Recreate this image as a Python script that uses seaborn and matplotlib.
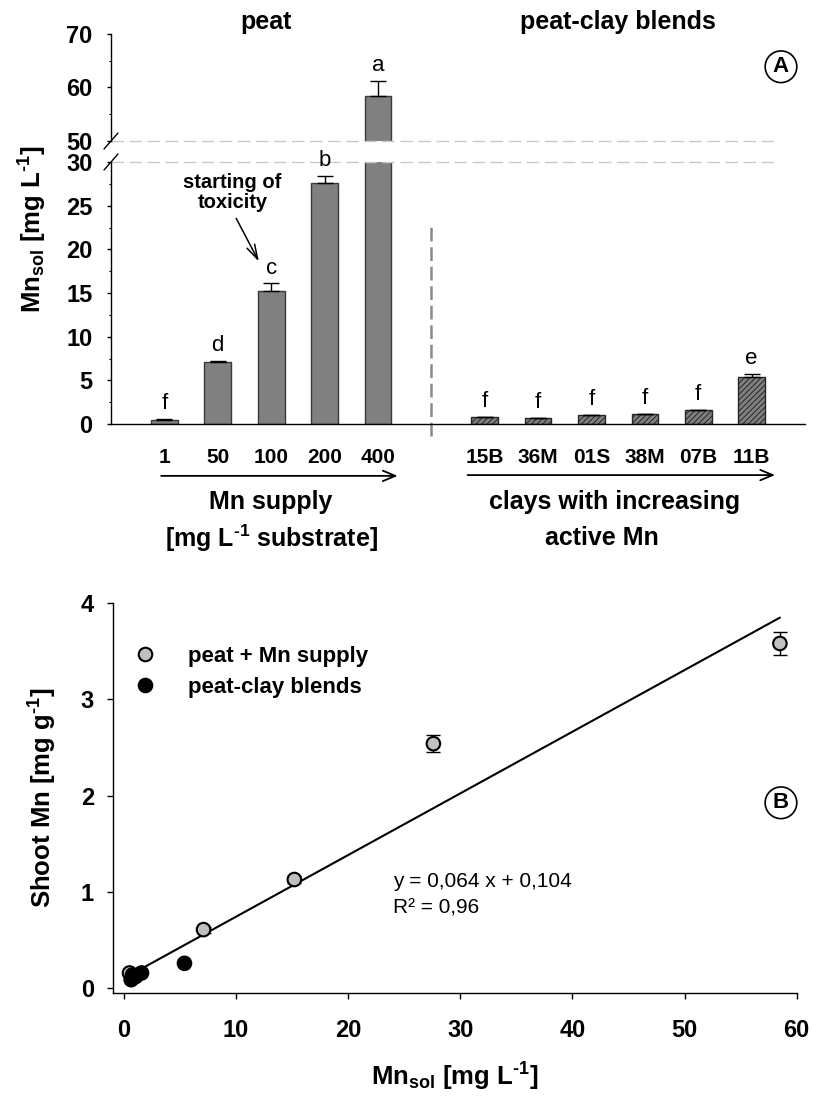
import numpy as np
import pandas as pd
import matplotlib
matplotlib.use("Agg")
import matplotlib.pyplot as plt
from matplotlib.lines import Line2D
from matplotlib.ticker import MultipleLocator
import seaborn as sns

# ---------------------------------------------------------------- data
# Panel A: soluble Mn in the substrate (mean and standard error)
peat_supply = ["1", "50", "100", "200", "400"]
peat_mnsol = [0.5, 7.1, 15.2, 27.6, 58.5]
peat_mnsol_se = [0.08, 0.12, 0.9, 0.8, 2.7]
peat_letters = ["f", "d", "c", "b", "a"]

clay_names = ["15B", "36M", "01S", "38M", "07B", "11B"]
clay_mnsol = [0.77, 0.65, 1.0, 1.1, 1.57, 5.4]
clay_mnsol_se = [0.04, 0.03, 0.05, 0.06, 0.08, 0.3]
clay_letters = ["f", "f", "f", "f", "f", "e"]

# Panel B: shoot Mn against soluble Mn
peat_shoot = [0.16, 0.61, 1.13, 2.54, 3.58]
peat_shoot_se = [0.02, 0.03, 0.04, 0.09, 0.12]
clay_shoot = [0.14, 0.09, 0.12, 0.13, 0.16, 0.26]
fit_slope = 0.064
fit_intercept = 0.104
fit_r2 = 0.96

group_names = ["peat + Mn supply", "peat-clay blends"]

# ---------------------------------------------------------------- style
sns.set_theme(style="ticks")
plt.rcParams["font.family"] = ["Liberation Sans", "DejaVu Sans"]
plt.rcParams.update({
    "font.weight": "bold",
    "mathtext.fontset": "custom",
    "mathtext.rm": "Liberation Sans",
    "mathtext.bf": "Liberation Sans:bold",
    "mathtext.it": "Liberation Sans:italic",
    "mathtext.default": "bf",
    "hatch.linewidth": 0.7,
    "axes.linewidth": 1.0,
    "axes.edgecolor": "black",
    "xtick.color": "black",
    "ytick.color": "black",
    "text.color": "black",
})

BAR_GREY = "#808080"
BAR_EDGE = "#3a3a3a"
HY = "\u2010"  # short hyphen for the unit exponents

W, H = 813, 1100
fig = plt.figure(figsize=(W / 100, H / 100), dpi=100)


def box(x0, y0, x1, y1):
    """Axes rectangle from pixel corners (top-left origin)."""
    return [x0 / W, 1 - y1 / H, (x1 - x0) / W, (y1 - y0) / H]


def fx(px):
    return px / W


def fy(py):
    return 1 - py / H


ax_hi = fig.add_axes(box(111, 34, 805, 141))
ax_lo = fig.add_axes(box(111, 162, 805, 424))
ax_b = fig.add_axes(box(112.7, 603, 796.7, 993.2))

# slot positions: peat bars, one empty slot as divider, then clay blends
peat_pos = np.arange(len(peat_supply))
divider = len(peat_supply)
clay_pos = np.arange(len(clay_names)) + divider + 1

peat_df = pd.DataFrame({"pos": peat_pos, "mnsol": peat_mnsol})
clay_df = pd.DataFrame({"pos": clay_pos, "mnsol": clay_mnsol})

# ---------------------------------------------------------------- panel A
for ax in (ax_hi, ax_lo):
    sns.barplot(data=peat_df, x="pos", y="mnsol", native_scale=True,
                width=0.5, color=BAR_GREY, saturation=1, errorbar=None,
                edgecolor=BAR_EDGE, linewidth=1.0, ax=ax)
    sns.barplot(data=clay_df, x="pos", y="mnsol", native_scale=True,
                width=0.5, color=BAR_GREY, saturation=1, errorbar=None,
                edgecolor="#262626", linewidth=1.0, hatch="//////", ax=ax)
    ax.errorbar(peat_pos, peat_mnsol,
                yerr=[np.zeros(len(peat_pos)), peat_mnsol_se],
                fmt="none", ecolor="black", elinewidth=1.0, capsize=5.5,
                capthick=1.0)
    ax.errorbar(clay_pos, clay_mnsol,
                yerr=[np.zeros(len(clay_pos)), clay_mnsol_se],
                fmt="none", ecolor="black", elinewidth=1.0, capsize=5.5,
                capthick=1.0)
    ax.set_xlim(-1, len(peat_supply) + len(clay_names) + 1)
    ax.set_xlabel("")
    ax.set_ylabel("")
    ax.spines["top"].set_visible(False)
    ax.spines["right"].set_visible(False)
    ax.tick_params(axis="y", which="major", direction="out", length=3.2,
                   width=1.0, labelsize=17, pad=10)
    ax.tick_params(axis="y", which="minor", direction="out", length=1.8,
                   width=0.8)

ax_hi.set_ylim(50, 70)
ax_hi.set_yticks([50, 60, 70])
ax_hi.yaxis.set_minor_locator(MultipleLocator(5))
ax_hi.spines["bottom"].set_visible(False)
ax_hi.set_xticks([])

ax_lo.set_ylim(0, 30)
ax_lo.set_yticks(np.arange(0, 31, 5))
ax_lo.yaxis.set_minor_locator(MultipleLocator(2.5))
ax_lo.set_xticks(list(peat_pos) + list(clay_pos))
ax_lo.set_xticklabels(peat_supply + clay_names)
ax_lo.tick_params(axis="x", length=0, labelsize=15, pad=17)

# significance letters above the error bars
for pos, val, se, let in zip(list(peat_pos) + list(clay_pos),
                             peat_mnsol + clay_mnsol,
                             peat_mnsol_se + clay_mnsol_se,
                             peat_letters + clay_letters):
    target = ax_hi if val + se > 30 else ax_lo
    target.annotate(let, (pos, val + se), xytext=(0, 7),
                    textcoords="offset points", ha="center", va="baseline",
                    fontsize=16, fontweight="normal", annotation_clip=False)

# axis break: grey dashed guides and slashes on the y axis
ax_hi.axhline(50, xmin=0, xmax=0.957, color="#c8c8c8", lw=1.0,
              ls=(0, (9, 4)), clip_on=False)
ax_lo.axhline(30, xmin=0, xmax=0.957, color="#c8c8c8", lw=1.0,
              ls=(0, (9, 4)), clip_on=False)
for py in (141, 162):
    fig.add_artist(Line2D([fx(104), fx(118)], [fy(py + 8), fy(py - 8)],
                          transform=fig.transFigure, color="black", lw=1.0))

# divider between the two substrate groups
ax_lo.plot([divider, divider], [-1.4, 23.1], color="#8a8a8a", lw=1.8,
           ls=(0, (5.5, 2.3)), clip_on=False)

# group arrows and captions below the category labels
xa = ax_lo.get_xaxis_transform()
arrow_kw = dict(arrowstyle="->,head_length=0.6,head_width=0.25",
                lw=1.3, color="black", shrinkA=0, shrinkB=0,
                mutation_scale=15)
ax_lo.annotate("", xy=(4.37, -0.198), xytext=(-0.06, -0.198),
               xycoords=xa, textcoords=xa, arrowprops=arrow_kw)
ax_lo.annotate("", xy=(11.44, -0.195), xytext=(5.68, -0.195),
               xycoords=xa, textcoords=xa, arrowprops=arrow_kw)
ax_lo.text(1.99, -0.298, "Mn supply", transform=xa, ha="center",
           va="center", fontsize=18)
ax_lo.text(2.0, -0.435, f"[mg L$^{{{HY}1}}$ substrate]", transform=xa,
           ha="center", va="center", fontsize=18)
ax_lo.text(8.44, -0.298, "clays with increasing", transform=xa,
           ha="center", va="center", fontsize=18)
ax_lo.text(8.19, -0.435, "active Mn", transform=xa, ha="center",
           va="center", fontsize=18)

# group titles
xh = ax_hi.get_xaxis_transform()
ax_hi.text(1.91, 1.115, "peat", transform=xh, ha="center", va="center",
           fontsize=18)
ax_hi.text(8.49, 1.115, "peat-clay blends", transform=xh, ha="center",
           va="center", fontsize=18)

# toxicity note with its pointer
ax_lo.text(1.275, 26.5, "starting of\ntoxicity", ha="center", va="center",
           fontsize=14.5, linespacing=1.05)
ax_lo.annotate("", xy=(1.77, 18.6), xytext=(1.345, 23.55),
               arrowprops=dict(arrowstyle="->,head_length=0.75,head_width=0.22",
                               lw=1.1, color="black", shrinkA=0,
                               shrinkB=0, mutation_scale=14))

ax_hi.text(0.9654, 0.694, "A", transform=ax_hi.transAxes, ha="center",
           va="center", fontsize=16,
           bbox=dict(boxstyle="circle,pad=0.24", fc="white", ec="black",
                     lw=1.2))

fig.text(fx(33), fy(229), f"Mn$_{{sol}}$ [mg L$^{{{HY}1}}$]", rotation=90,
         ha="center", va="center", fontsize=18.5)

# ---------------------------------------------------------------- panel B
scatter_df = pd.DataFrame({
    "mnsol": peat_mnsol + clay_mnsol,
    "shoot": peat_shoot + clay_shoot,
    "group": [group_names[0]] * len(peat_mnsol)
    + [group_names[1]] * len(clay_mnsol),
})

x_fit = np.array([scatter_df["mnsol"].min(), scatter_df["mnsol"].max()])
ax_b.plot(x_fit, fit_slope * x_fit + fit_intercept, color="black", lw=1.5,
          zorder=1)
ax_b.errorbar(peat_mnsol, peat_shoot, yerr=peat_shoot_se, fmt="none",
              ecolor="black", elinewidth=1.0, capsize=5, capthick=1.0,
              zorder=2)
sns.scatterplot(data=scatter_df, x="mnsol", y="shoot", hue="group",
                palette={group_names[0]: "#c0c0c0",
                         group_names[1]: "black"},
                s=95, edgecolor="black", linewidth=1.5, zorder=3, ax=ax_b)

sns.move_legend(ax_b, "upper left", bbox_to_anchor=(0.0305, 0.89),
                frameon=False, title=None, fontsize=16, borderaxespad=0,
                borderpad=0, handlelength=1.0, handletextpad=1.45,
                labelspacing=0.45)

ax_b.set_xlim(-1, 60)
ax_b.set_ylim(-0.05, 4)
ax_b.set_xticks(np.arange(0, 61, 10))
ax_b.set_yticks(np.arange(0, 5, 1))
ax_b.spines["top"].set_visible(False)
ax_b.spines["right"].set_visible(False)
ax_b.tick_params(axis="both", direction="out", length=4, width=1.0,
                 labelsize=17)
ax_b.tick_params(axis="x", pad=14.5)
ax_b.tick_params(axis="y", pad=9.5)
ax_b.set_xlabel("")
ax_b.set_ylabel("")

eq_text = f"y = {fit_slope:.3f} x + {fit_intercept:.3f}".replace(".", ",")
r2_text = f"R\u00b2 = {fit_r2:.2f}".replace(".", ",")
ax_b.text(24.0, 1.108, eq_text, ha="left", va="center", fontsize=15,
          fontweight="normal")
ax_b.text(24.0, 0.834, r2_text, ha="left", va="center", fontsize=15,
          fontweight="normal")

ax_b.text(0.977, 0.488, "B", transform=ax_b.transAxes, ha="center",
          va="center", fontsize=16,
          bbox=dict(boxstyle="circle,pad=0.24", fc="white", ec="black",
                    lw=1.2))

fig.text(fx(43), fy(798), f"Shoot Mn [mg g$^{{{HY}1}}$]", rotation=90,
         ha="center", va="center", fontsize=18.5)
fig.text(fx(455), fy(1077), f"Mn$_{{sol}}$ [mg L$^{{{HY}1}}$]", ha="center",
         va="center", fontsize=18.5)

fig.savefig("out.png", dpi=100)
